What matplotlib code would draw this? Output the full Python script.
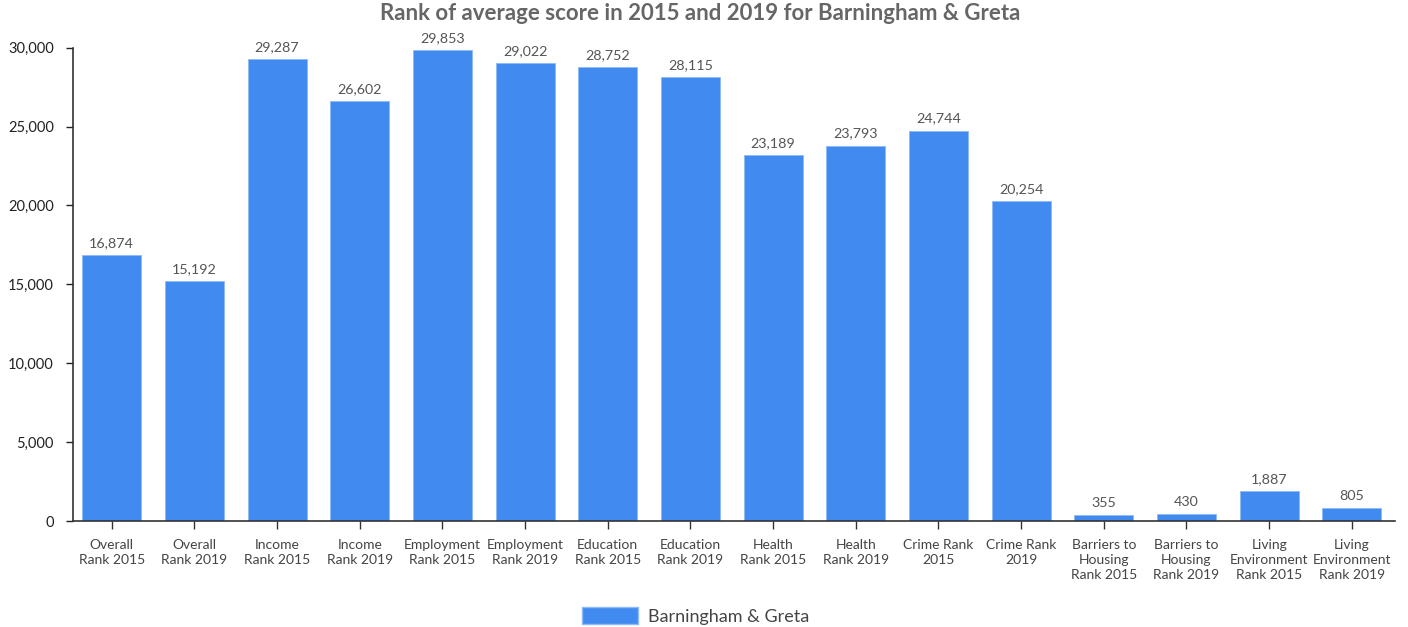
import matplotlib.pyplot as plt
from matplotlib.ticker import FuncFormatter
from matplotlib.patches import Patch

plt.rcParams['font.family'] = ['Lato', 'DejaVu Sans']

categories = ['Overall\nRank 2015', 'Overall\nRank 2019', 'Income\nRank 2015', 'Income\nRank 2019',
              'Employment\nRank 2015', 'Employment\nRank 2019', 'Education\nRank 2015', 'Education\nRank 2019',
              'Health\nRank 2015', 'Health\nRank 2019', 'Crime Rank\n2015', 'Crime Rank\n2019',
              'Barriers to\nHousing\nRank 2015', 'Barriers to\nHousing\nRank 2019',
              'Living\nEnvironment\nRank 2015', 'Living\nEnvironment\nRank 2019']
values = [16874, 15192, 29287, 26602, 29853, 29022, 28752, 28115,
          23189, 23793, 24744, 20254, 355, 430, 1887, 805]
series_name = 'Barningham & Greta'
yticks = [0, 5000, 10000, 15000, 20000, 25000, 30000]

blue = '#418bf0'

fig = plt.figure(figsize=(14.08, 6.27), dpi=100)
ax = fig.add_axes([0.052, 0.169, 0.939, 0.755])

x = list(range(len(values)))
ax.bar(x, values, width=0.715, color=blue, edgecolor='#8fbaf5', linewidth=0.6)

for xi, v in zip(x, values):
    ax.text(xi, v + 380, f'{v:,}', ha='center', va='bottom', fontsize=10.3, color='#555555')

ax.set_xlim(-0.466, 15.526)
ax.set_ylim(0, 30000)
ax.set_yticks(yticks)
ax.yaxis.set_major_formatter(FuncFormatter(lambda v, p: f'{int(v):,}'))
ax.set_xticks(x)
ax.set_xticklabels(categories, fontsize=10, color='#444444', linespacing=1.3)
ax.tick_params(axis='y', labelsize=10.5, colors='#222222', length=5, width=1, pad=9)
ax.tick_params(axis='x', length=6, width=1, color='#333333', pad=7)

for s in ['top', 'right']:
    ax.spines[s].set_visible(False)
for s in ['left', 'bottom']:
    ax.spines[s].set_color('#333333')
    ax.spines[s].set_linewidth(1.2)

fig.suptitle('Rank of average score in 2015 and 2019 for Barningham & Greta',
             x=0.497, y=0.995, fontsize=16, fontweight='bold', color='#666666')

fig.legend(handles=[Patch(facecolor=blue, edgecolor='#8fbaf5')], labels=[series_name],
           loc='lower center', bbox_to_anchor=(0.494, -0.022), frameon=False, fontsize=13,
           handlelength=3.15, handleheight=1.05, handletextpad=0.55, labelcolor='#444444')

fig.savefig('out.png', dpi=100)
